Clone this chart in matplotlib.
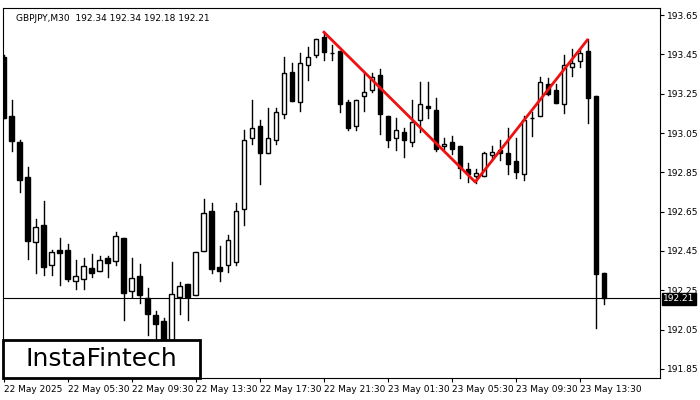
import matplotlib
matplotlib.use("Agg")
import matplotlib.pyplot as plt
from matplotlib.patches import Rectangle

opens = [193.438,193.136,193.004,192.826,192.494,192.582,192.380,192.455,192.455,192.299,
         192.309,192.363,192.350,192.414,192.400,192.516,192.248,192.323,192.211,192.124,
         192.094,191.997,192.217,192.282,192.228,192.451,192.653,192.370,192.379,192.394,
         192.663,193.023,193.085,192.947,193.013,193.145,193.363,193.206,193.394,193.446,
         193.536,193.455,193.467,193.206,193.084,193.236,193.267,193.343,193.135,193.023,
         193.053,193.002,193.114,193.185,193.165,192.982,193.004,192.982,192.867,192.833,
         192.833,192.936,192.962,192.948,192.907,192.843,193.124,193.135,193.297,193.267,
         193.196,193.384,193.414,193.467,193.238,192.34]
highs = [193.446,193.218,193.014,192.877,192.612,192.704,192.455,192.516,192.485,192.404,
         192.414,192.435,192.424,192.424,192.546,192.516,192.414,192.384,192.262,192.145,
         192.109,192.394,192.292,192.282,192.445,192.714,192.694,192.475,192.531,192.694,
         193.065,193.218,193.116,193.177,193.177,193.436,193.406,193.457,193.487,193.526,
         193.565,193.497,193.467,193.218,193.216,193.358,193.355,193.374,193.136,193.126,
         193.075,193.218,193.308,193.308,193.226,193.024,193.035,192.984,192.897,192.867,
         192.953,192.982,193.013,193.075,193.023,193.138,193.155,193.333,193.331,193.297,
         193.446,193.477,193.477,193.528,193.238,192.34]
lows = [193.126,192.960,192.751,192.409,192.339,192.329,192.329,192.278,192.299,192.258,
        192.258,192.319,192.350,192.319,192.380,192.101,192.217,192.187,192.023,191.972,
        191.946,191.957,192.131,192.101,192.228,192.451,192.339,192.299,192.343,192.379,
        192.582,192.992,192.792,192.947,192.994,193.125,193.214,193.163,193.318,193.435,
        193.422,193.422,193.155,193.064,193.065,193.163,193.257,193.043,192.980,192.962,
        192.926,192.982,193.053,193.125,192.960,192.970,192.941,192.822,192.802,192.796,
        192.833,192.914,192.914,192.843,192.822,192.812,193.033,193.135,193.243,193.204,
        193.152,193.341,193.384,193.102,192.060,192.18]
closes = [193.126,193.011,192.811,192.502,192.572,192.370,192.445,192.441,192.309,192.321,
          192.374,192.339,192.404,192.390,192.526,192.238,192.312,192.228,192.131,192.080,
          191.972,192.231,192.272,192.217,192.445,192.643,192.360,192.350,192.506,192.653,
          193.013,193.074,192.950,193.023,193.155,193.353,193.214,193.404,193.435,193.526,
          193.463,193.455,193.196,193.074,193.216,193.257,193.336,193.145,193.013,193.064,
          193.013,193.104,193.196,193.175,192.970,192.994,192.970,192.873,192.843,192.846,
          192.948,192.952,192.948,192.894,192.853,193.114,193.124,193.308,193.250,193.204,
          193.396,193.404,193.457,193.226,192.331,192.21]

pattern_x = [40, 58.9, 72.9]
pattern_y = [193.563, 192.801, 193.523]
yticks = [193.65,193.45,193.25,193.05,192.85,192.65,192.45,192.25,192.05,191.85]
xtick_pos = [0,8,16,24,32,40,48,56,64,72]
xtick_lab = ["22 May 2025","22 May 05:30","22 May 09:30","22 May 13:30","22 May 17:30",
             "22 May 21:30","23 May 01:30","23 May 05:30","23 May 09:30","23 May 13:30"]
last_price = 192.21

fig = plt.figure(figsize=(7,4), dpi=100)
ax = fig.add_axes([0.004, 0.055, 0.939, 0.925])
w = 0.6
for i,(o,h,l,c) in enumerate(zip(opens,highs,lows,closes)):
    ax.plot([i,i],[l,h],color="black",lw=1,zorder=2)
    bot = min(o,c); ht = max(abs(c-o),0.002)
    ax.add_patch(Rectangle((i-w/2,bot),w,ht,facecolor="white" if c>o else "black",
                           edgecolor="black",lw=1,zorder=3))
ax.plot(pattern_x, pattern_y, color="#ee1111", lw=2, zorder=4)
ax.axhline(last_price, color="black", lw=0.8, zorder=1)
ax.set_xlim(-0.125, 82)
ax.set_ylim(191.804, 193.686)
ax.yaxis.tick_right()
ax.set_yticks(yticks)
ax.set_yticklabels([f"{v:.2f}" for v in yticks], fontsize=6.5)
ax.set_xticks(xtick_pos)
ax.set_xticklabels(xtick_lab, fontsize=6.5, ha="left")
ax.tick_params(length=3, pad=2)
ax.text(1.005, last_price - 0.004, f"{last_price:.2f}", transform=ax.get_yaxis_transform(),
        fontsize=6.5, color="white", va="center", ha="left",
        bbox=dict(facecolor="black", edgecolor="black", pad=0.8))
ax.text(0.02, 0.985, "GBPJPY,M30  192.34 192.34 192.18 192.21", transform=ax.transAxes,
        fontsize=6.5, va="top", ha="left")
fig.patches.append(Rectangle((0.004, 0.055), 0.282, 0.095, transform=fig.transFigure,
                             facecolor="white", edgecolor="black", lw=2, zorder=10))
fig.text(0.145, 0.102, "InstaFintech", fontsize=18, ha="center", va="center", zorder=11)
fig.savefig("out.png", dpi=100)
